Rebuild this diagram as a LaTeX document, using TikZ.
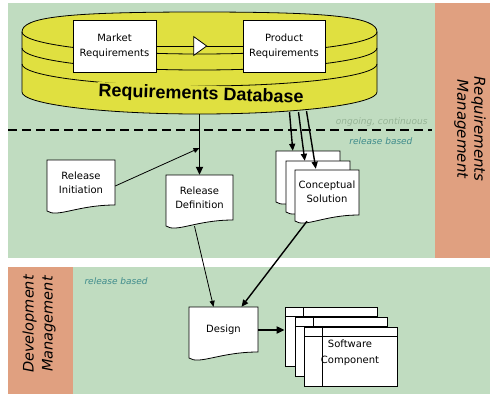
\documentclass[tikz,border=0pt]{standalone}
\usepackage{fontspec}
\setmainfont{DejaVu Sans}
\newfontfamily\dbfont{Liberation Sans}
\usetikzlibrary{arrows.meta,calc,decorations.markings}

\definecolor{panelgreen}{RGB}{192,220,192}
\definecolor{panelorange}{RGB}{224,160,128}
\definecolor{dbyellow}{RGB}{224,224,64}
\definecolor{notegray}{RGB}{150,180,150}
\definecolor{noteteal}{RGB}{64,140,140}

% document symbol with a wavy lower edge; #1,#2 = top-left corner, #3 = width
\newcommand{\docpath}[3]{%
  \filldraw[docline] (#1,#2) -- ({#1+#3},#2) -- ({#1+#3},{#2+45})
    .. controls ({#1+0.45*#3},{#2+45}) and ({#1+0.15*#3},{#2+58}) .. (#1,{#2+51}) -- cycle;}

\begin{document}
\begin{tikzpicture}[x=1pt,y=-1pt,
  docline/.style={draw=black, fill=white, line width=0.8pt},
  doctext/.style={font=\fontsize{10}{14}\selectfont, align=center, inner sep=0pt, minimum height=46pt},
  reqbox/.style={draw=black, fill=white, line width=0.8pt, font=\fontsize{10}{15}\selectfont,
                 align=center, inner sep=0pt, minimum height=52pt},
  comp/.style={draw=black, fill=white, line width=0.8pt, minimum width=92pt, minimum height=59pt,
               inner sep=0pt,
               path picture={
                 \draw[line width=0.8pt] ([yshift=-9pt]path picture bounding box.north west)
                    -- ([yshift=-9pt]path picture bounding box.north east);
                 \draw[line width=0.8pt] ([xshift=18pt]path picture bounding box.north west)
                    -- ([xshift=18pt]path picture bounding box.south west);}},
  flow/.style={-{Triangle[length=6pt,width=5pt]}, line width=0.8pt},
  midflow/.style={-{Triangle[length=7pt,width=6pt]}, line width=1.4pt},
  boldflow/.style={-{Triangle[length=8pt,width=7pt]}, line width=1.9pt},
  note/.style={font=\fontsize{9}{11}\selectfont\itshape},
  lane/.style={font=\fontsize{15}{17}\selectfont\itshape, align=center, inner sep=0pt},
  cyl/.style={draw=black, line width=0.8pt}
]

% swim lanes
\fill[white] (0,0) rectangle (490,394);
\fill[panelgreen] (8,3) rectangle (435,258);
\fill[panelorange] (435,3) rectangle (490,258);
\fill[panelorange] (8,267) rectangle (73,394);
\fill[panelgreen] (73,267) rectangle (490,394);

\node[lane, rotate=-90] (rmlane) at (470,129) {Requirements\\Management};
\node[lane, rotate=90, font=\fontsize{14.5}{19}\selectfont\itshape] (dmlane) at (39,324) {Development\\Management};

% requirements database cylinder
\fill[dbyellow] (22,32) -- (22,92) arc[start angle=180, end angle=0, x radius=177.5, y radius=22]
  -- (377,32) .. controls (377,17) and (332.6,12) .. (199.5,12)
  .. controls (66.4,12) and (22,17) .. (22,32) -- cycle;
\draw[cyl] (22,32) .. controls (22,17) and (66.4,12) .. (199.5,12)
  .. controls (332.6,12) and (377,17) .. (377,32);
\draw[cyl] (22,32) arc[start angle=180, end angle=0, x radius=177.5, y radius=22];
\draw[cyl] (22,48) arc[start angle=180, end angle=0, x radius=177.5, y radius=22];
\draw[cyl] (22,64) arc[start angle=180, end angle=0, x radius=177.5, y radius=22];
\draw[cyl] (22,32) -- (22,92) arc[start angle=180, end angle=0, x radius=177.5, y radius=22] -- (377,32);
\node[inner sep=0pt, minimum width=355pt, minimum height=102pt] (db) at (199.5,63) {};
\node[font=\dbfont\bfseries\fontsize{18}{20}\selectfont, rotate=-2, fill=dbyellow, inner sep=1pt]
  (dbtext) at (201,95) {Requirements Database};

\node[reqbox, minimum width=83pt] (market) at (114.5,46) {Market\\Requirements};
\node[reqbox, minimum width=82pt] (product) at (284,46) {Product\\Requirements};
\draw[line width=0.8pt, decoration={markings,
   mark=at position 51pt with {\arrow[line width=0.8pt]{Triangle[length=14pt,width=20pt,fill=white]}}},
   postaction={decorate}] (market.east) -- (product.west);

% phase boundary
\draw[line width=2pt, dash pattern=on 9pt off 5pt] (8,130) -- (432,130);
\node[note, text=notegray, anchor=east] (ongoing) at (431,122) {ongoing, continuous};
\node[note, text=noteteal, anchor=east] (relA) at (416,141) {release based};
\node[note, text=noteteal, anchor=west] (relB) at (81,281) {release based};

% documents
\docpath{47}{160}{68}
\node[doctext, minimum width=68pt] (ri) at (81,183) {Release\\Initiation};
\docpath{166}{175}{67}
\node[doctext, minimum width=67pt] (rd) at (199.5,198) {Release\\Definition};
\docpath{276}{151}{64}
\node[doctext, minimum width=64pt] (cs1) at (308,174) {};
\docpath{286}{161}{64}
\node[doctext, minimum width=64pt] (cs2) at (318,184) {};
\docpath{295}{170}{64}
\node[doctext, minimum width=64pt] (cs3) at (327,192) {Conceptual\\Solution};
\docpath{189}{307}{69}
\node[doctext, minimum width=69pt] (des) at (223.5,330) {Design};

% software components
\node[comp] (c1) at (331,337) {};
\node[comp] (c2) at (341,347) {};
\node[comp, minimum width=93pt] (c3) at (351,357) {};
\node[font=\fontsize{10}{16}\selectfont, align=center, inner sep=0pt] (c3text) at (350,353) {Software\\Component};

% connectors
\coordinate (join) at (199.5,148);
\draw[boldflow] (db.south) -- (rd.north);
\draw[flow] ([yshift=-3pt]ri.east) -- (join);
\draw[midflow] ($(db.south)+(90,-2)$) -- ($(cs1.north west)+(17,0)$);
\draw[midflow] ($(db.south)+(99,-2)$) -- ($(cs2.north west)+(19,0)$);
\draw[midflow] ($(db.south)+(107,-3)$) -- ($(cs3.north west)+(21,0)$);
\draw[flow] ($(rd.south)+(-5,5)$) -- ($(des.north)+(-10,0)$);
\draw[midflow] ($(cs3.south)+(-20,6)$) -- ($(des.north)+(18,0)$);
\draw[boldflow] (des.east) -- (des.east -| c1.west);

\end{tikzpicture}
\end{document}
